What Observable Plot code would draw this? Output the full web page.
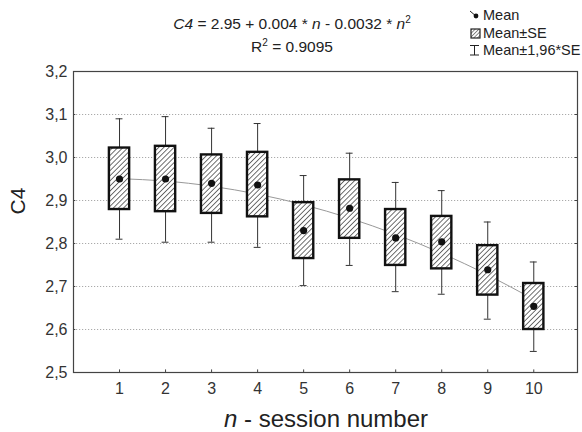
<!DOCTYPE html>
<html>
<head>
<meta charset="utf-8">
<script src="https://cdn.jsdelivr.net/npm/d3@7"></script>
<script src="https://cdn.jsdelivr.net/npm/@observablehq/plot@0.6"></script>
<style>
  html, body { margin: 0; padding: 0; background: #fff; }
  #chart { width: 582px; height: 432px; }
  svg { font-family: "Liberation Sans", Arial, sans-serif; }
</style>
</head>
<body>
<div id="chart"></div>
<script>
// Session numbers
const sessions = [1, 2, 3, 4, 5, 6, 7, 8, 9, 10];
// Mean C4 per session
const means = [2.950, 2.950, 2.940, 2.936, 2.830, 2.882, 2.813, 2.804, 2.739, 2.654];
// Mean - SE / Mean + SE
const seLow  = [2.879, 2.874, 2.870, 2.862, 2.765, 2.812, 2.749, 2.741, 2.680, 2.600];
const seHigh = [3.022, 3.026, 3.006, 3.012, 2.895, 2.948, 2.879, 2.863, 2.795, 2.707];
// Mean - 1.96*SE / Mean + 1.96*SE
const ciLow  = [2.810, 2.803, 2.803, 2.791, 2.702, 2.749, 2.688, 2.682, 2.624, 2.549];
const ciHigh = [3.090, 3.095, 3.068, 3.079, 2.958, 3.010, 2.942, 2.923, 2.850, 2.757];
// Fitted curve values (C4 = 2.95 + 0.004 n - 0.0032 n^2) at each session
const fitValues = [2.9508, 2.9452, 2.9332, 2.9148, 2.8900, 2.8588, 2.8212, 2.7772, 2.7268, 2.6700];
// Tick values
const xTicks = [1, 2, 3, 4, 5, 6, 7, 8, 9, 10];
const yTicks = [2.5, 2.6, 2.7, 2.8, 2.9, 3.0, 3.1, 3.2];
const gridTicks = [2.6, 2.7, 2.8, 2.9, 3.0, 3.1];

const data = sessions.map((n, i) => ({
  n, mean: means[i], seLo: seLow[i], seHi: seHigh[i], ciLo: ciLow[i], ciHi: ciHigh[i]
}));
const fit = sessions.map((n, i) => ({n, y: fitValues[i]}));

const boxHalf = 0.22, capHalf = 0.075;
const X0 = 0, X1 = 10.95;

const plot = Plot.plot({
  width: 582,
  height: 432,
  marginTop: 71,
  marginLeft: 73,
  marginRight: 5,
  marginBottom: 60,
  style: {fontFamily: "'Liberation Sans', Arial, sans-serif", background: "#fff"},
  x: {domain: [X0, X1]},
  y: {domain: [2.5, 3.2]},
  marks: [
    Plot.ruleY(gridTicks, {stroke: "#aaa", strokeDasharray: "1.2,1.8", strokeWidth: 1}),
    Plot.frame({stroke: "#444", strokeWidth: 1.2}),
    Plot.axisX({ticks: xTicks, tickSize: 0, tickPadding: 10, fontSize: 16, color: "#333", label: null, tickFormat: d => String(d)}),
    Plot.axisY({ticks: yTicks, tickSize: 0, tickPadding: 6, fontSize: 16, color: "#333", label: null, tickFormat: d => d.toFixed(1).replace(".", ",")}),
    // inward tick marks
    Plot.ruleX(xTicks, {y1: 2.5, y2: 2.506, stroke: "#444"}),
    Plot.ruleY(gridTicks, {x1: X0, x2: X0 + 0.05, stroke: "#444"}),
    Plot.ruleY(gridTicks, {x1: X1 - 0.05, x2: X1, stroke: "#444"}),
    // fitted curve
    Plot.line(fit, {x: "n", y: "y", curve: "natural", stroke: "#999", strokeWidth: 1}),
    // whiskers
    Plot.ruleX(data, {x: "n", y1: "ciLo", y2: "ciHi", stroke: "#333", strokeWidth: 1}),
    Plot.ruleY(data, {y: "ciHi", x1: d => d.n - capHalf, x2: d => d.n + capHalf, stroke: "#333", strokeWidth: 1}),
    Plot.ruleY(data, {y: "ciLo", x1: d => d.n - capHalf, x2: d => d.n + capHalf, stroke: "#333", strokeWidth: 1}),
    // SE boxes
    Plot.rect(data, {x1: d => d.n - boxHalf, x2: d => d.n + boxHalf, y1: "seLo", y2: "seHi",
      fill: "url(#hatch)", stroke: "#111", strokeWidth: 2.4}),
    // means
    Plot.dot(data, {x: "n", y: "mean", r: 3.6, fill: "#111", stroke: "none"})
  ]
});

// hatch pattern
const svg = d3.select(plot);
const defs = svg.insert("defs", ":first-child");
const pat = defs.append("pattern").attr("id", "hatch").attr("patternUnits", "userSpaceOnUse")
  .attr("width", 3.6).attr("height", 3.6).attr("patternTransform", "rotate(45)");
pat.append("rect").attr("width", 3.6).attr("height", 3.6).attr("fill", "#fff");
pat.append("line").attr("x1", 0).attr("y1", 0).attr("x2", 0).attr("y2", 3.6)
  .attr("stroke", "#333").attr("stroke-width", 1.4);

// legend hatch (smaller)
const pat2 = defs.append("pattern").attr("id", "hatch2").attr("patternUnits", "userSpaceOnUse")
  .attr("width", 2.6).attr("height", 2.6).attr("patternTransform", "rotate(45)");
pat2.append("rect").attr("width", 2.6).attr("height", 2.6).attr("fill", "#fff");
pat2.append("line").attr("x1", 0).attr("y1", 0).attr("x2", 0).attr("y2", 2.6)
  .attr("stroke", "#333").attr("stroke-width", 1.1);

const font = "'Liberation Sans', Arial, sans-serif";
const ann = svg.append("g").attr("font-family", font).attr("fill", "#222").attr("text-anchor", "start");

// title equation
const t1 = ann.append("text").attr("x", 292).attr("y", 29).attr("text-anchor", "middle").attr("font-size", 15.5);
t1.append("tspan").attr("font-style", "italic").text("C4");
t1.append("tspan").text(" = 2.95 + 0.004 * ");
t1.append("tspan").attr("font-style", "italic").text("n");
t1.append("tspan").text(" - 0.0032 * ");
t1.append("tspan").attr("font-style", "italic").text("n");
t1.append("tspan").attr("font-size", 10).attr("dy", -6).text("2");

const t2 = ann.append("text").attr("x", 292).attr("y", 52).attr("text-anchor", "middle").attr("font-size", 15.5);
t2.append("tspan").text("R");
t2.append("tspan").attr("font-size", 10).attr("dy", -6).text("2");
t2.append("tspan").attr("dy", 6).text(" = 0.9095");

// legend
const lg = ann.append("g").attr("font-size", 14.5).attr("text-anchor", "start");
lg.append("line").attr("x1", 470).attr("y1", 11).attr("x2", 477).attr("y2", 17).attr("stroke", "#222").attr("stroke-width", 1);
lg.append("circle").attr("cx", 476).attr("cy", 16).attr("r", 2.4).attr("fill", "#111");
lg.append("text").attr("x", 483).attr("y", 20).text("Mean");
lg.append("rect").attr("x", 471).attr("y", 29).attr("width", 9).attr("height", 9)
  .attr("fill", "url(#hatch2)").attr("stroke", "#222").attr("stroke-width", 1.2);
lg.append("text").attr("x", 483).attr("y", 38).text("Mean±SE");
lg.append("path").attr("d", "M470,45.5H479M474.5,45.5V55M470,55H479").attr("stroke", "#222").attr("fill", "none").attr("stroke-width", 1);
lg.append("text").attr("x", 483).attr("y", 55).text("Mean±1,96*SE");

// axis titles
ann.append("text").attr("transform", "translate(25,201) rotate(-90)").attr("text-anchor", "middle")
  .attr("font-size", 21).text("C4");
const xl = ann.append("text").attr("x", 326).attr("y", 427).attr("text-anchor", "middle").attr("font-size", 24);
xl.append("tspan").attr("font-style", "italic").text("n");
xl.append("tspan").text(" - session number");

document.getElementById("chart").appendChild(plot);
</script>
</body>
</html>
